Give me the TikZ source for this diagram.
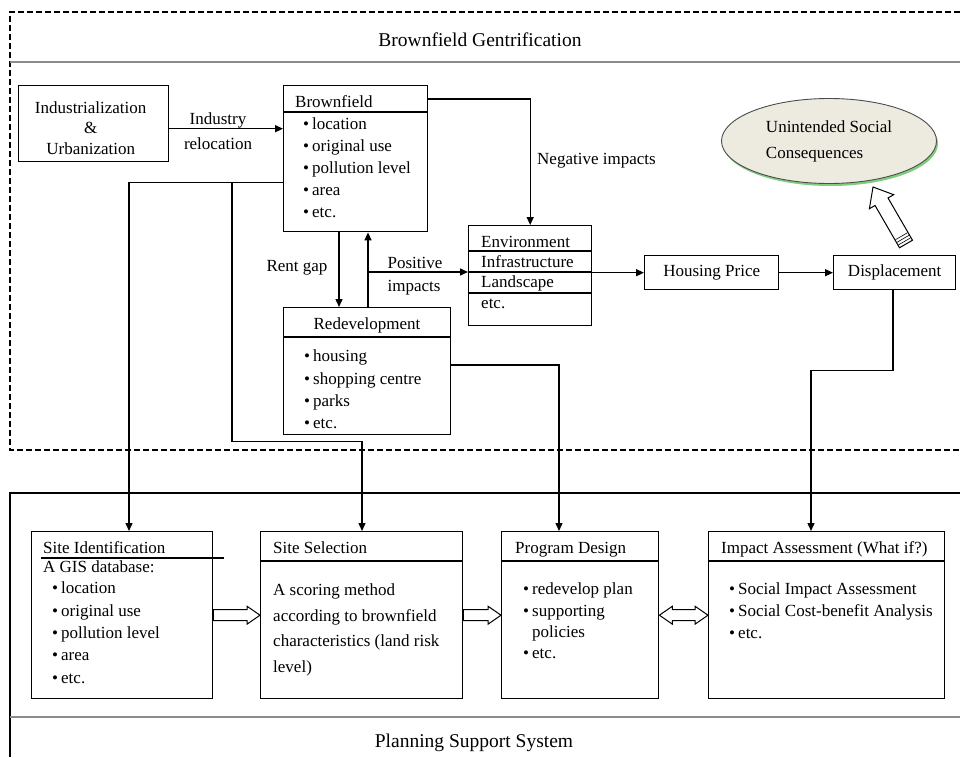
\documentclass[tikz,border=0pt]{standalone}
\usepackage{fontspec}
\setmainfont{Liberation Serif}
\usetikzlibrary{calc,positioning,arrows.meta,shapes.geometric}
\definecolor{ellfill}{RGB}{237,235,224}
\definecolor{ellshade}{RGB}{128,205,128}
\definecolor{rulegray}{RGB}{140,140,140}
\newcommand{\bodyfont}{\fontsize{17}{22}\selectfont}
\newcommand{\headfont}{\fontsize{19.5}{24}\selectfont}
\newcommand{\bitem}{\makebox[9pt][l]{\textbullet}}
% hollow block arrow: tail, tip, shaft half width, head half width, head length
\newcommand{\fatarrow}[5]{%
  \coordinate (fa) at ($(#2)!#5!(#1)$);
  \draw[line width=1pt, fill=white]
    ($(#1)!#3!90:(#2)$) -- ($(fa)!#3!90:(#2)$) -- ($(fa)!#4!90:(#2)$) -- (#2)
    -- ($(fa)!#4!-90:(#2)$) -- ($(fa)!#3!-90:(#2)$) -- ($(#1)!#3!-90:(#2)$) -- cycle;
}
\newcommand{\fatdarrow}[5]{%
  \coordinate (fa) at ($(#1)!#5!(#2)$);
  \coordinate (fb) at ($(#2)!#5!(#1)$);
  \draw[line width=1pt, fill=white]
    (#1) -- ($(fa)!#4!90:(#2)$) -- ($(fa)!#3!90:(#2)$) -- ($(fb)!#3!90:(#2)$)
    -- ($(fb)!#4!90:(#2)$) -- (#2) -- ($(fb)!#4!-90:(#2)$) -- ($(fb)!#3!-90:(#2)$)
    -- ($(fa)!#3!-90:(#2)$) -- ($(fa)!#4!-90:(#2)$) -- cycle;
}

\begin{document}
\begin{tikzpicture}[x=1pt, y=-1pt,
  box/.style={draw, line width=1.4pt, anchor=north west, inner sep=0pt, font=\bodyfont},
  txt/.style={anchor=west, inner sep=0pt, font=\bodyfont, text height=11pt, text depth=0pt},
  lab/.style={inner sep=0pt, font=\bodyfont, text height=11pt, text depth=0pt},
  link/.style={line width=1.4pt, -{Triangle[length=8pt, width=7pt]}},
  rule/.style={line width=1.4pt},
  frame/.style={line width=1.1pt, dash pattern=on 6pt off 3pt}]
  \useasboundingbox (0,0) rectangle (960,757);

  % Brownfield Gentrification part
  \draw[frame] (960,12) -- (10,12) -- (10,450) -- (960,450);
  \draw[rulegray, line width=1.6pt] (10,62) -- (960,62);
  \node[lab, font=\headfont, text height=13pt] (gent) at (480,40) {Brownfield Gentrification};

  \node[box, minimum width=150, minimum height=76] (indus) at (18,85) {};
  \node[lab, align=center, text height=, text depth=, font=\fontsize{17}{20.5}\selectfont]
    (indust) at ($(indus.center)+(-3,4)$) {Industrialization\\\&\\Urbanization};

  \node[box, minimum width=144, minimum height=146] (bf) at (283,85) {};
  \draw[rule] ($(bf.north west)+(0,27)$) -- ++(144,0);
  \node[txt] (bft) at (295,102) {Brownfield};
  \foreach \t [count=\i] in {location, original use, pollution level, area, etc.}
    \node[txt] (bf\i) at (303,102+22*\i) {\bitem\t};

  \node[box, minimum width=123, minimum height=100] (env) at (468,225) {};
  \foreach \y in {251,272,293}
    \draw[rule] (env.west |- 0,\y) -- (env.east |- 0,\y);
  \foreach \t/\y [count=\i] in {Environment/242, Infrastructure/262, Landscape/282, etc./303}
    \node[txt] (env\i) at (481,\y) {\t};

  \node[box, minimum width=167, minimum height=127] (redev) at (283,307) {};
  \draw[rule] ($(redev.north west)+(0,30)$) -- ++(167,0);
  \node[lab] (redevt) at (367,324) {Redevelopment};
  \foreach \t [count=\i] in {housing, shopping centre, parks, etc.}
    \node[txt] (rd\i) at (304,334+22.3*\i) {\bitem\t};

  \node[box, minimum width=134, minimum height=34] (hp) at (644,255) {Housing Price};
  \node[box, minimum width=122, minimum height=34] (disp) at (833,255) {Displacement};

  \node[ellipse, fill=ellshade, minimum width=215, minimum height=85] (ucssh) at (830.5,143.5) {};
  \node[ellipse, draw=black!70, fill=ellfill, line width=0.9pt, minimum width=215,
        minimum height=85, inner sep=0pt, align=left,
        font=\fontsize{17}{26}\selectfont] (ucs) at (829,141) {Unintended Social\\Consequences};
  \coordinate (ctail) at (906,244);
  \coordinate (ctip) at (873,187);
  \fatarrow{ctail}{ctip}{7.5pt}{14pt}{17pt}
  \foreach \d in {3pt,6pt,9pt} {
    \coordinate (hz) at ($(ctail)!\d!(ctip)$);
    \draw[line width=0.6pt] ($(hz)!7pt!90:(ctip)$) -- ($(hz)!7pt!-90:(ctip)$);
  }

  \draw[link] ($(indus.east)+(0,5)$) coordinate (ir) -- (ir -| bf.west);
  \node[lab] (irl1) at (218,119) {Industry};
  \node[lab] (irl2) at (218,144) {relocation};
  \draw[link] ($(bf.north east)+(0,14)$) -| (env.north);
  \node[txt] (neg) at (537,159) {Negative impacts};
  \draw[link] ($(bf.south west)+(56,0)$) -- ($(redev.north west)+(56,0)$);
  \draw[link] ($(redev.north west)+(85,0)$) -- ($(bf.south west)+(85,0)$);
  \node[lab] (rent) at (297,266) {Rent gap};
  \draw[link] ($(redev.north west)+(85,-35)$) coordinate (pi) -- (pi -| env.west);
  \node[lab] (pos1) at (415,263) {Positive};
  \node[lab] (pos2) at (414,286) {impacts};
  \draw[link] (env.east |- hp.west) -- (hp.west);
  \draw[link] (hp.east) -- (disp.west);

  % Planning Support System part
  \draw[line width=1.4pt] (960,493) -- (10,493) -- (10,757);
  \draw[rulegray, line width=1.6pt] (10,717) -- (960,717);
  \node[lab, font=\headfont, text height=13pt] (pss) at (474,741) {Planning Support System};

  \node[box, minimum width=181, minimum height=167] (sid) at (31,531) {};
  \draw[rule] ($(sid.north west)+(10,27)$) -- ++(183,0);
  \node[txt] (sidt) at (43,548) {Site Identification};
  \node[txt] (gis) at (43,567) {A GIS database:};
  \foreach \t [count=\i] in {location, original use, pollution level, area, etc.}
    \node[txt] (sid\i) at (52,566+22.3*\i) {\bitem\t};

  \node[box, minimum width=202, minimum height=167] (ssel) at (260,531) {};
  \draw[rule] ($(ssel.north west)+(0,30)$) -- ++(202,0);
  \node[txt] (sselt) at (273,548) {Site Selection};
  \foreach \t [count=\i] in {A scoring method, according to brownfield, characteristics (land risk, level)}
    \node[txt] (ss\i) at (273,564.5+25.5*\i) {\t};

  \node[box, minimum width=157, minimum height=167] (pd) at (501,531) {};
  \draw[rule] ($(pd.north west)+(0,30)$) -- ++(157,0);
  \node[txt] (pdt) at (515,548) {Program Design};
  \foreach \t/\y [count=\i] in {\bitem redevelop plan/589, \bitem supporting/611,
                                \phantom{\bitem}policies/632, \bitem etc./653}
    \node[txt] (pd\i) at (523,\y) {\t};

  \node[box, minimum width=236, minimum height=167] (ia) at (708,531) {};
  \draw[rule] ($(ia.north west)+(0,30)$) -- ++(236,0);
  \node[txt] (iat) at (721,548) {Impact Assessment (What if?)};
  \foreach \t [count=\i] in {Social Impact Assessment, Social Cost-benefit Analysis, etc.}
    \node[txt] (ia\i) at (729,567+22*\i) {\bitem\t};

  \fatarrow{sid.east}{ssel.west}{5.5pt}{9pt}{13pt}
  \fatarrow{ssel.east}{pd.west}{5.5pt}{9pt}{13pt}
  \fatdarrow{pd.east}{ia.west}{5.5pt}{9pt}{13pt}

  % links down into the planning support system
  \draw[link] ($(bf.south west)+(0,-50)$) coordinate (bfl) -| ($(sid.north west)+(98,0)$);
  \coordinate (bfr) at ($(bfl)+(-51,0)$);
  \draw[link] (bfr) -- ++(0,259) -| ($(ssel.north west)+(102,0)$);
  \draw[link] ($(redev.north east)+(0,58)$) -| ($(pd.north west)+(58,0)$);
  \draw[link] ($(disp.south west)+(60,0)$) -- ++(0,80) -| ($(ia.north west)+(103,0)$);
\end{tikzpicture}
\end{document}
